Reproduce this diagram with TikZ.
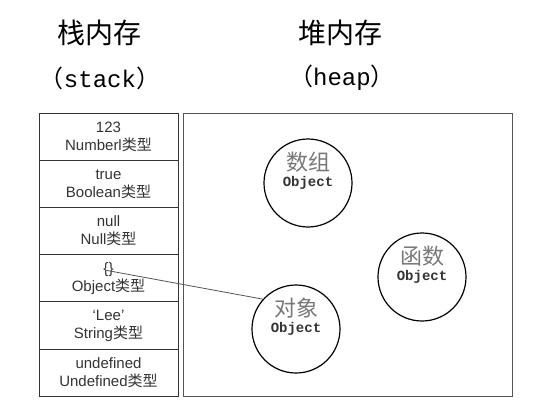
\documentclass[tikz,border=0pt]{standalone}
\usepackage{fontspec}
\setsansfont{Liberation Sans}
\newfontfamily\cjk{Noto Sans CJK SC}
\newfontfamily\mono{Liberation Mono}
\usepackage{tikz}

\definecolor{textgray}{HTML}{333333}
\definecolor{namegray}{HTML}{777777}
\definecolor{linegray}{HTML}{555555}

\tikzset{
  title/.style={font=\cjk\fontsize{28}{30}\selectfont},
  subtitle/.style={font=\fontsize{24}{28}\selectfont},
  cell/.style={draw=textgray, line width=1pt, minimum width=139pt, minimum height=47.2pt,
    align=center, inner sep=0pt, text=textgray, font=\sffamily\fontsize{15}{18}\selectfont},
  heapbox/.style={draw=linegray, line width=1pt, minimum width=329pt, minimum height=283pt},
  heapobj/.style={draw, circle, line width=1.2pt, minimum size=88pt, inner sep=0pt},
  objname/.style={text=namegray, font=\cjk\fontsize{22}{24}\selectfont, inner sep=0pt},
  objtype/.style={text=textgray, font=\mono\bfseries\fontsize{14}{16}\selectfont, inner sep=0pt},
  link/.style={draw=linegray, line width=0.8pt}
}

\begin{document}
\begin{tikzpicture}[x=1pt, y=-1pt]
  \useasboundingbox (0,0) rectangle (538,412);

  \node[title] (stacktitle) at (99,33) {栈内存};
  \node[title] (heaptitle) at (340,33) {堆内存};
  \node[subtitle] (stacksub) at (100,78) {{\cjk （}{\mono stack}{\cjk ）}};
  \node[subtitle] (heapsub) at (342,78) {{\cjk （}{\mono heap}{\cjk ）}};

  \foreach \v/\t [count=\i] in {123/Numberl, true/Boolean, null/Null, \{\}/Object, ‘Lee’/String, undefined/Undefined}
    \node[cell] (c\i) at (108.5, {113+47.2*(\i-0.5)}) {\v\\\t{\cjk 类型}};

  \node[heapbox] (heap) at (347.5,254.5) {};

  \foreach \n/\x/\y/\t in {arr/308/183/数组, fn/422/277/函数, obj/296/329/对象} {
    \node[heapobj] (\n) at (\x,\y) {};
    \node[objname] (\n-name) at ([yshift=21pt]\n.center) {\t};
    \node[objtype] (\n-type) at (\n.center) {Object};
  }

  \coordinate (ref) at ([xshift=-3pt,yshift=8pt]c4.center);
  \draw[link] (ref) -- (obj.138);
\end{tikzpicture}
\end{document}
